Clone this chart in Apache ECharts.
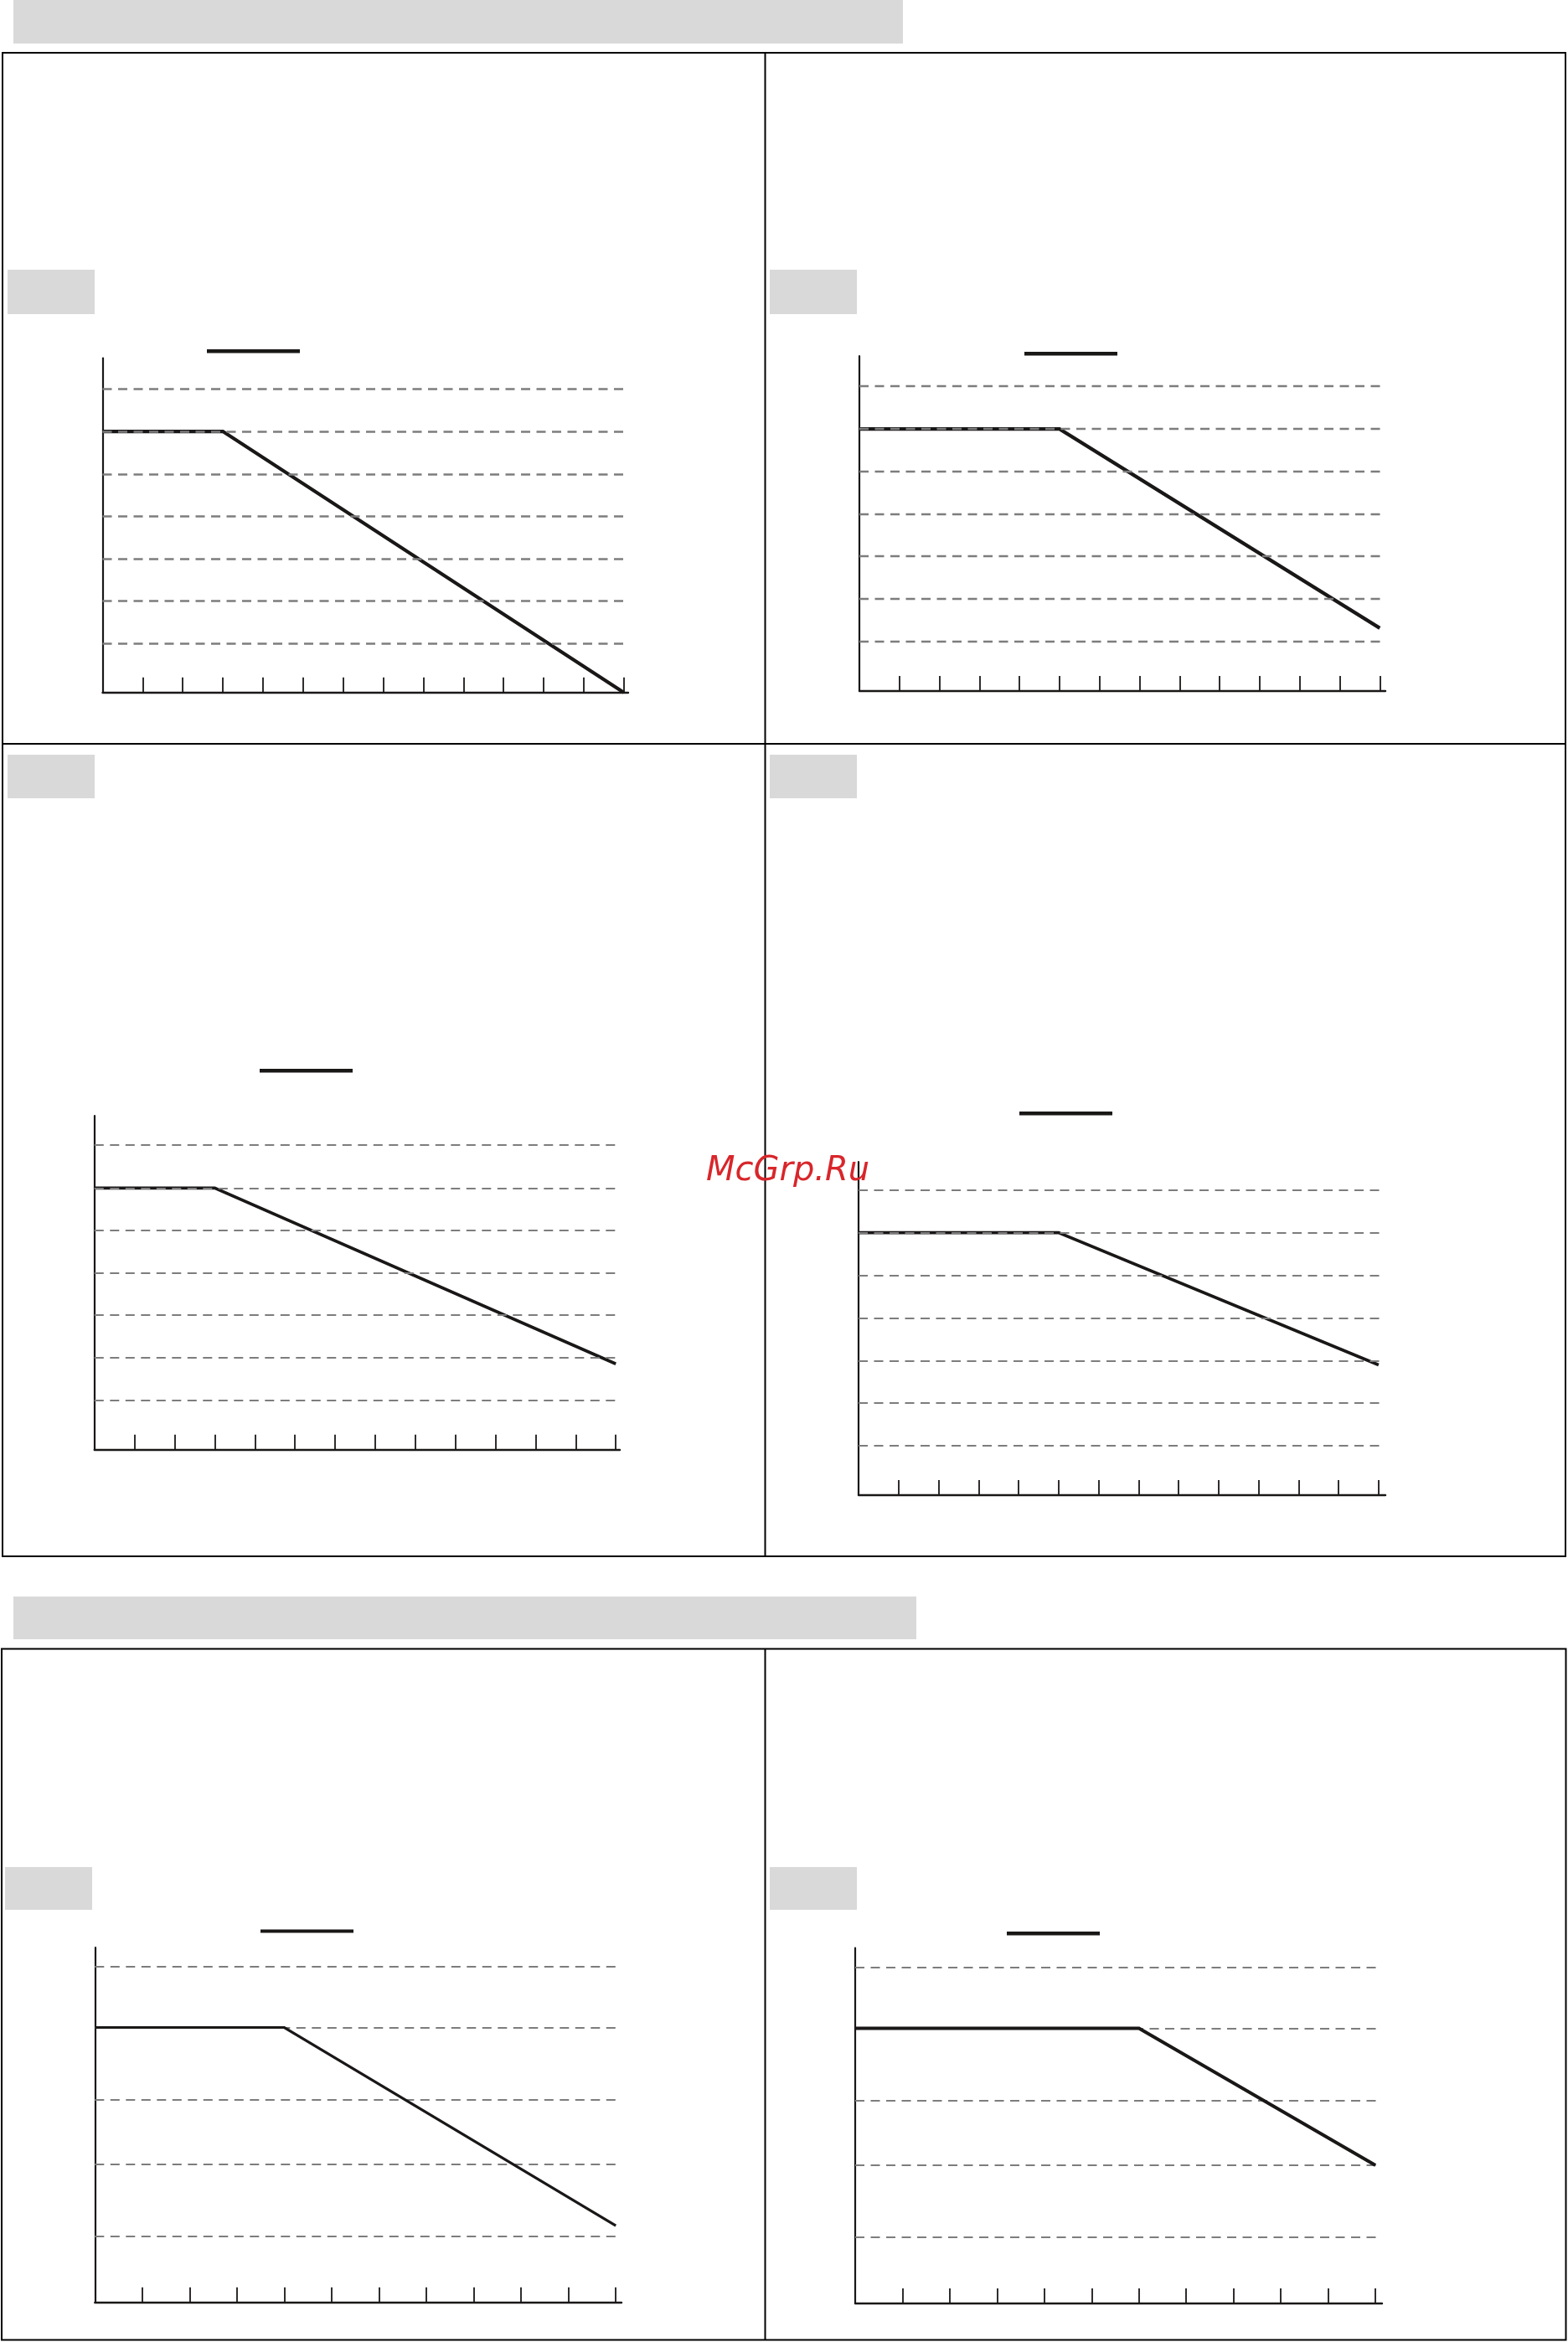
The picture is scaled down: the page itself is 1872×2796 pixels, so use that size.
<!DOCTYPE html>
<html>
<head>
<meta charset="utf-8">
<script src="https://cdn.jsdelivr.net/npm/echarts@6/dist/echarts.min.js"></script>
<style>
html,body{margin:0;padding:0;background:#ffffff;}
#chart{width:1872px;height:2796px;}
</style>
</head>
<body>
<div id="chart"></div>
<script>
// ---------------- data ----------------
// x in tick steps, y in chart units (panels 1-4: grid steps above the x axis; panels 5-6: % of flat level)
const ticks13 = [1, 2, 3, 4, 5, 6, 7, 8, 9, 10, 11, 12, 13];
const ticks11 = [1, 2, 3, 4, 5, 6, 7, 8, 9, 10, 11];

const curve1X = [0, 3, 13];
const curve1Y = [6.14, 6.14, 0];
const gridLevels1 = [1.15, 2.15, 3.15, 4.14, 5.14, 6.14, 7.15];

const curve2X = [0, 5, 13];
const curve2Y = [6.16, 6.16, 1.48];
const gridLevels2 = [1.17, 2.17, 3.17, 4.16, 5.16, 6.16, 7.17];

const curve3X = [0, 3, 13];
const curve3Y = [6.16, 6.16, 2.02];
const gridLevels3 = [1.17, 2.16, 3.17, 4.17, 5.16, 6.16, 7.17];

const curve4X = [0, 5, 13];
const curve4Y = [6.17, 6.17, 3.06];
const gridLevels4 = [1.17, 2.17, 3.16, 4.15, 5.16, 6.17, 7.17];

const curve5X = [0, 4, 11];
const curve5Y = [100, 100, 27.9];
const gridLevels5 = [24.0, 50.2, 73.7, 100, 122.2];

const curve6X = [0, 6, 11];
const curve6Y = [100, 100, 50.2];
const gridLevels6 = [24.0, 50.2, 73.7, 100, 122.2];

// ---------------- layout / styling ----------------
const panels = [
  {name: 'curve 1', xs: curve1X, ys: curve1Y, levels: gridLevels1, ticks: ticks13, xMax: 13.11, yMax: 7.865,
   grid: {left: 122.5, top: 427.5, width: 627.5, height: 399.3}, legend: {left: 247, top: 417, h: 4.5},
   lw: 4.2, gw: 2.6, gridOnTop: true},
  {name: 'curve 2', xs: curve2X, ys: curve2Y, levels: gridLevels2, ticks: ticks13, xMax: 13.14, yMax: 7.877,
   grid: {left: 1026, top: 425, width: 628, height: 400}, legend: {left: 1223, top: 420, h: 4.5},
   lw: 4.2, gw: 2.3, gridOnTop: true},
  {name: 'curve 3', xs: curve3X, ys: curve3Y, levels: gridLevels3, ticks: ticks13, xMax: 13.1, yMax: 7.864,
   grid: {left: 112.8, top: 1332, width: 627.2, height: 398.7}, legend: {left: 310, top: 1276, h: 4.5},
   lw: 3.7, gw: 2.2, gridOnTop: true},
  {name: 'curve 4', xs: curve4X, ys: curve4Y, levels: gridLevels4, ticks: ticks13, xMax: 13.17, yMax: 7.835,
   grid: {left: 1025, top: 1387, width: 629, height: 398}, legend: {left: 1217, top: 1327, h: 4.5},
   lw: 3.7, gw: 2.2, gridOnTop: true},
  {name: 'curve 5', xs: curve5X, ys: curve5Y, levels: gridLevels5, ticks: ticks11, xMax: 11.12, yMax: 129.1,
   grid: {left: 113.3, top: 2325, width: 628.7, height: 423.7}, legend: {left: 311, top: 2303.5, h: 4},
   lw: 3.2, gw: 2.2, gridOnTop: false},
  {name: 'curve 6', xs: curve6X, ys: curve6Y, levels: gridLevels6, ticks: ticks11, xMax: 11.14, yMax: 129.2,
   grid: {left: 1021, top: 2325.7, width: 629, height: 424.2}, legend: {left: 1202, top: 2306, h: 4.5},
   lw: 4, gw: 2.2, gridOnTop: false}
];

const INK = '#1a1717';
const GRIDC = '#7d7d7d';
const GRAY = '#d9d9d9';

const option = {
  backgroundColor: '#ffffff',
  animation: false,
  grid: [], xAxis: [], yAxis: [], series: [], legend: [],
  graphic: {elements: []}
};

panels.forEach(function (p, i) {
  option.grid.push(Object.assign({containLabel: false}, p.grid));
  option.xAxis.push({
    type: 'value', gridIndex: i, min: 0, max: p.xMax,
    axisLine: {show: true, onZero: false, lineStyle: {color: INK, width: 2.4}},
    axisTick: {show: true, inside: true, length: 18, lineStyle: {color: INK, width: 1.8}, customValues: p.ticks},
    axisLabel: {show: false},
    splitLine: {show: false}
  });
  option.yAxis.push({
    type: 'value', gridIndex: i, min: 0, max: p.yMax,
    axisLine: {show: true, onZero: false, lineStyle: {color: INK, width: 2.2}},
    axisTick: {show: false},
    axisLabel: {show: false},
    splitLine: {show: false}
  });
  option.series.push({
    name: p.name,
    type: 'line',
    xAxisIndex: i, yAxisIndex: i,
    data: p.xs.map(function (x, k) { return [x, p.ys[k]]; }),
    symbol: 'none',
    z: 3,
    color: INK,
    lineStyle: {color: INK, width: p.lw, join: 'miter'},
    markLine: {
      silent: true,
      z: p.gridOnTop ? 5 : 1,
      symbol: ['none', 'none'],
      label: {show: false},
      emphasis: {disabled: true},
      lineStyle: {color: GRIDC, width: p.gw, type: [11, 7.5]},
      data: p.levels.map(function (v) { return {yAxis: v}; })
    }
  });
  option.legend.push({
    data: [p.name],
    left: p.legend.left, top: p.legend.top,
    padding: 0,
    icon: 'rect',
    itemWidth: 111, itemHeight: p.legend.h,
    itemGap: 0,
    selectedMode: false,
    itemStyle: {color: INK, borderWidth: 0},
    formatter: function () { return ''; },
    textStyle: {fontSize: 1, padding: 0}
  });
});

const els = option.graphic.elements;
// section header placeholders (gray boxes)
[
  [16, 0, 1062, 52],
  [9, 322, 104, 53], [919, 322, 104, 53],
  [9, 901, 104, 52], [919, 901, 104, 52],
  [16, 1906, 1078, 51],
  [6, 2229, 104, 51], [919, 2229, 104, 51]
].forEach(function (r) {
  els.push({type: 'rect', z: 0, shape: {x: r[0], y: r[1], width: r[2], height: r[3]}, style: {fill: GRAY}, silent: true});
});
// table frames
els.push({type: 'rect', z: 10, shape: {x: 3, y: 63, width: 1866, height: 1795}, style: {fill: 'none', stroke: '#000', lineWidth: 2}, silent: true});
els.push({type: 'line', z: 10, shape: {x1: 913.5, y1: 63, x2: 913.5, y2: 1858}, style: {stroke: '#000', lineWidth: 2}, silent: true});
els.push({type: 'line', z: 10, shape: {x1: 3, y1: 888, x2: 1869, y2: 888}, style: {stroke: '#000', lineWidth: 2}, silent: true});
els.push({type: 'rect', z: 10, shape: {x: 2, y: 1968.5, width: 1867.5, height: 825}, style: {fill: 'none', stroke: '#000', lineWidth: 2}, silent: true});
els.push({type: 'line', z: 10, shape: {x1: 913.5, y1: 1968.5, x2: 913.5, y2: 2793.5}, style: {stroke: '#000', lineWidth: 2}, silent: true});
// watermark
els.push({type: 'text', z: 20, x: 843, y: 1399, silent: true,
  style: {text: 'McGrp.Ru', fill: '#d8262b', font: 'italic 40px "DejaVu Sans"', textAlign: 'left', textVerticalAlign: 'middle'}});

const chart = echarts.init(document.getElementById('chart'), null, {renderer: 'canvas', width: 1872, height: 2796});
chart.setOption(option);
</script>
</body>
</html>
